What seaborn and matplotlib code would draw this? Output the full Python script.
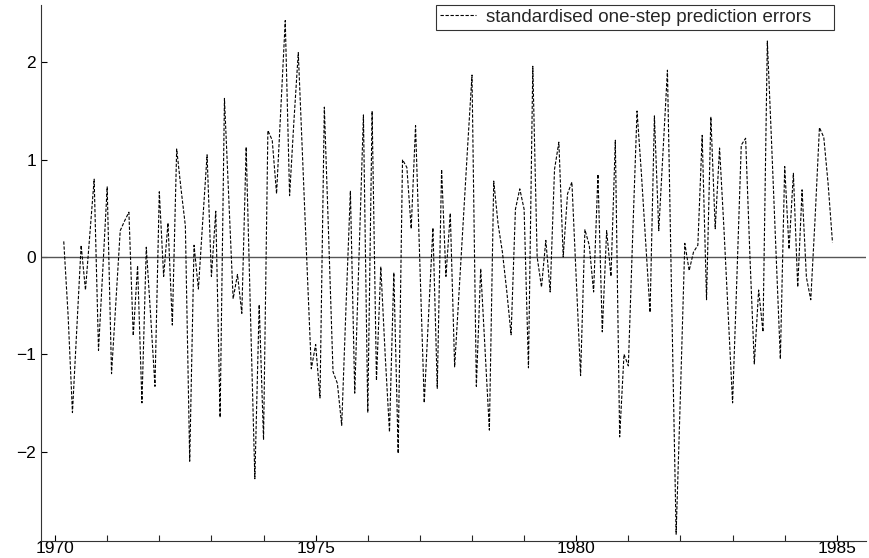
import numpy as np
import pandas as pd
import seaborn as sns
import matplotlib.pyplot as plt

# monthly standardised one-step prediction errors, starting March 1970
start_year = 1970
start_month = 3
errors = [
    0.16, -0.60, -1.60, -0.74, 0.12, -0.34, 0.23, 0.80, -0.96, -0.12,
    0.72, -1.20, -0.47, 0.27, 0.37, 0.46, -0.81, -0.09, -1.50, 0.10,
    -0.60, -1.33, 0.67, -0.20, 0.35, -0.70, 1.11, 0.70, 0.32, -2.10,
    0.12, -0.33, 0.37, 1.05, -0.20, 0.47, -1.65, 1.63, 0.60, -0.43,
    -0.18, -0.58, 1.13, -0.60, -2.28, -0.49, -1.88, 1.30, 1.20, 0.65,
    1.55, 2.43, 0.63, 1.40, 2.10, 1.00, -0.08, -1.15, -0.90, -1.45,
    1.54, 0.20, -1.18, -1.30, -1.73, -0.50, 0.68, -1.40, 0.03, 1.46,
    -1.60, 1.50, -1.27, -0.10, -1.00, -1.80, -0.16, -2.02, 1.00, 0.92,
    0.29, 1.35, -0.07, -1.50, -0.60, 0.30, -1.35, 0.90, -0.20, 0.45,
    -1.13, -0.38, 0.38, 1.14, 1.87, -1.33, -0.12, -0.96, -1.78, 0.78,
    0.34, 0.05, -0.35, -0.80, 0.49, 0.70, 0.49, -1.14, 1.96, 0.00,
    -0.31, 0.17, -0.36, 0.90, 1.18, 0.00, 0.65, 0.77, -0.22, -1.22,
    0.28, 0.12, -0.36, 0.85, -0.77, 0.27, -0.20, 1.20, -1.85, -1.00,
    -1.12, 0.22, 1.50, 0.86, 0.15, -0.57, 1.45, 0.27, 1.10, 1.92,
    -0.50, -2.85, -1.40, 0.14, -0.14, 0.05, 0.12, 1.25, -0.44, 1.44,
    0.29, 1.12, 0.30, -0.60, -1.50, -0.20, 1.15, 1.22, 0.00, -1.10,
    -0.34, -0.77, 2.22, 1.15, 0.05, -1.05, 0.93, 0.08, 0.86, -0.31,
    0.69, -0.21, -0.44, 0.40, 1.33, 1.23, 0.75, 0.15,
]
label = 'standardised one-step prediction errors'
year_ticks = [1970, 1975, 1980, 1985]
y_ticks = [-2, -1, 0, 1, 2]
y_labels = ['\u22122', '\u22121', '0', '1', '2']

t = start_year + (start_month - 1 + np.arange(len(errors))) / 12
df = pd.DataFrame({'time': t, 'error': errors})

sns.set_style('ticks')
plt.rcParams['font.family'] = ['Liberation Sans', 'DejaVu Sans']

fig = plt.figure(figsize=(8.69, 5.58), dpi=100)
ax = fig.add_axes([41 / 869, 17 / 558, 825 / 869, 536 / 558])

ax.axhline(0, color='#555555', lw=1.0, zorder=1)
sns.lineplot(data=df, x='time', y='error', ax=ax, color='black', lw=0.8,
             linestyle=(0, (3, 1.5)), label=label, zorder=2)

ax.set_xlim(1969.73, 1985.56)
ax.set_ylim(-2.92, 2.59)
ax.set_xticks(year_ticks)
ax.set_xticks(range(1970, 1986), minor=True)
ax.set_yticks(y_ticks)
ax.set_yticklabels(y_labels)
ax.tick_params(direction='in', length=4, width=0.8, labelsize=12.5, colors='black')
ax.tick_params(axis='x', pad=0)
ax.tick_params(which='minor', direction='in', length=4, width=0.8)
ax.set_xlabel('')
ax.set_ylabel('')
sns.despine(ax=ax)
for s in ['left', 'bottom']:
    ax.spines[s].set_color('#333333')
    ax.spines[s].set_linewidth(0.8)

# legend box stretched to its reference width, text stays left-aligned
leg = ax.legend(loc='upper left', bbox_to_anchor=(395 / 825, 0.0, 398 / 825, 1.0),
                mode='expand', fontsize=13.5, frameon=True, fancybox=False,
                edgecolor='black', handlelength=1.95, handletextpad=0.5,
                borderpad=0.2, borderaxespad=0)
leg.get_frame().set_linewidth(0.8)

plt.savefig('out.png', dpi=100)
